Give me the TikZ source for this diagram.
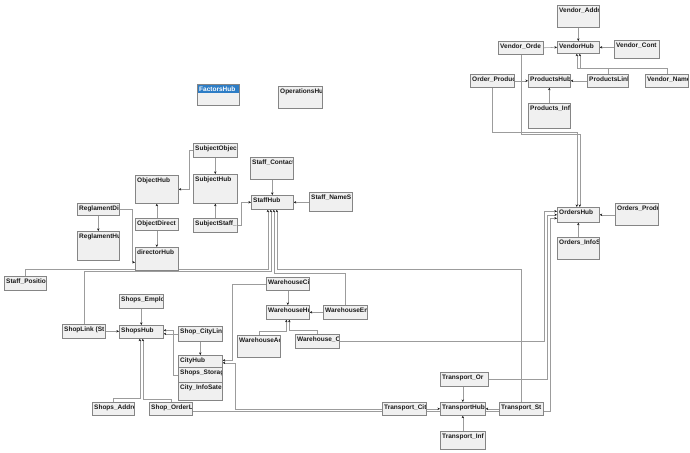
\documentclass[tikz,border=0pt]{standalone}
\usepackage{fontspec}
\setmainfont{Liberation Sans}
\usetikzlibrary{arrows.meta, calc}
\definecolor{boxfill}{HTML}{F0F0F0}
\definecolor{boxedge}{HTML}{858585}
\definecolor{relgray}{HTML}{9C9C9C}
\definecolor{selblue}{HTML}{2D7DC6}
\definecolor{inkdark}{HTML}{1A1A1A}
\pgfdeclarelayer{bg}
\pgfsetlayers{bg,main}

\begin{document}
\begin{tikzpicture}[x=1pt, y=-1pt,
  tbl/.style={draw=boxedge, fill=boxfill, line width=0.6pt, inner sep=0pt, anchor=north west},
  tbltext/.style={draw=none, fill=none, minimum width=0pt, minimum height=0pt, anchor=north west,
    inner xsep=1.6pt, inner ysep=2.1pt, text=inkdark, font=\bfseries\fontsize{6.5}{7}\selectfont},
  rel/.style={draw=relgray, line width=0.55pt, -{Stealth[length=2.6pt,width=2.4pt,color=inkdark]}}]
  \useasboundingbox (0,0) rectangle (690,452);

  % Tables (titles clipped to the box)
  \foreach \nm/\xa/\ya/\w/\h/\txt in {
    vaddr/557/5/42/22/Vendor\_Addr, vhub/557/41/42/12/VendorHub,
    vorde/498/41/45/13/Vendor\_Orde, vcont/614/40/45/18/Vendor\_Cont,
    oprod/470/74/44/13/Order\_Produc, phub/528/74/42/13/ProductsHub,
    plink/587/74/41/13/ProductsLink, vname/645/74/43/13/Vendor\_Name,
    pinfo/528/103/42/25/Products\_Info, ophub/278/86/44/22/OperationsHu,
    subobj/193/143/44/14/SubjectObjec, ohub/135/175/43/28/ObjectHub,
    shub/193/174/44/29/SubjectHub, ssub/193/218/44/14/SubjectStaff\_,
    odir/135/218/43/12/ObjectDirect, dhub/135/247/43/23/directorHub,
    rdi/77/203/42/12/ReglamentDi, rhu/77/231/42/29/ReglamentHu,
    spos/4/276/42/14/Staff\_Position, scont/250/157/43/22/Staff\_Contact,
    sthub/251/195/42/14/StaffHub, sname/309/192/43/19/Staff\_NameS,
    whci/266/277/43/13/WarehouseCi, whhub/266/305/43/14/WarehouseHu,
    when/323/305/44/14/WarehouseEn, whac/237/335/43/22/WarehouseAc,
    who/295/334/44/14/Warehouse\_O, ordhub/557/207/42/15/OrdersHub,
    ordprod/615/203/43/22/Orders\_Produ, ordinfo/557/237/42/22/Orders\_InfoS,
    shemp/119/294/44/14/Shops\_Emplo, shlink/62/324/43/14/ShopLink (St,
    shhub/119/325/44/13/ShopsHub, shcity/178/326/44/15/Shop\_CityLin,
    cityhub/178/355/44/12/CityHub, shstor/178/367/44/15/Shops\_Storag,
    cityinfo/178/382/44/18/City\_InfoSate, shaddr/92/402/42/13/Shops\_Addre,
    shord/149/402/43/13/Shop\_OrderLi, tror/440/372/48/14/Transport\_Or,
    trcit/382/402/44/13/Transport\_Cit, trhub/440/402/45/13/TransportHub,
    trst/499/402/44/13/Transport\_St, trinf/440/431/45/18/Transport\_Inf} {
    \node[tbl, minimum width=\w pt, minimum height=\h pt,
      path picture={\node[tbltext] at (path picture bounding box.north west) {\txt};}] (\nm) at (\xa,\ya) {};
  }
  % Selected table
  \node[tbl, minimum width=42pt, minimum height=21pt,
    path picture={\fill[selblue] (path picture bounding box.north west) rectangle ([yshift=-9pt]path picture bounding box.north east);
      \node[tbltext, text=white] at (path picture bounding box.north west) {FactorsHub};}] (fhub) at (197,84) {};

  \begin{pgfonlayer}{bg}
    \fill[white] (0,0) rectangle (690,452);
    % Vendor and products
    \draw[rel] (vaddr.south) -- (vhub.north);
    \draw[rel] (vorde.east) -- (vhub.west);
    \draw[rel] (vcont.west |- vhub.east) -- (vhub.east);
    \draw[rel] (plink.north) -- ++(0,-6) -| ([xshift=-1.5pt]vhub.south);
    \draw[rel] (vname.north) -- ++(0,-6) -| ([xshift=1.5pt]vhub.south);
    \draw[rel] (oprod.east) -- (phub.west);
    \draw[rel] (plink.west) -- (phub.east);
    \draw[rel] (pinfo.north) -- (phub.south);
    \draw[rel] (oprod.south) -- ++(0,45) -| ([xshift=-1.5pt]ordhub.north);
    \draw[rel] (vorde.south) -- ++(0,80) -| ([xshift=1.5pt]ordhub.north);
    % Orders
    \draw[rel] (ordprod.west |- ordhub.east) -- (ordhub.east);
    \draw[rel] (ordinfo.north) -- (ordhub.south);
    \draw[rel] (who.east) -- ++(205,0) |- ([yshift=3.5pt]ordhub.west);
    \draw[rel] (tror.east) -- ++(59,0) |- (ordhub.west);
    \draw[rel] ([yshift=-2pt]shord.east) -- ++(358,0) |- ([yshift=-3.5pt]ordhub.west);
    % Staff
    \draw[rel] (sthub.north |- scont.south) -- (sthub.north);
    \draw[rel] (sname.west |- sthub.east) -- (sthub.east);
    \draw[rel] (ssub.east) -- ++(4,0) |- (sthub.west);
    \draw[rel] (spos.north) -- ++(0,-7) -| ([xshift=-4.5pt]sthub.south);
    \draw[rel] (shlink.north) -- ++(0,-53) -| ([xshift=-1.5pt]sthub.south);
    \draw[rel] (when.north) -- ++(0,-32) -| ([xshift=1.5pt]sthub.south);
    \draw[rel] (trst.north) -- ++(0,-133) -| ([xshift=4.5pt]sthub.south);
    % Subject, object, director
    \draw[rel] (subobj.south) -- (shub.north);
    \draw[rel] (ssub.north) -- (shub.south);
    \draw[rel] (subobj.west) -- ++(-4,0) |- (ohub.east);
    \draw[rel] (odir.north) -- (ohub.south);
    \draw[rel] (odir.south) -- (dhub.north);
    \draw[rel] (rdi.east) -- ++(13,0) |- ([yshift=-3.5pt]dhub.west);
    \draw[rel] (rdi.south) -- (rhu.north);
    % Warehouse
    \draw[rel] (whci.south) -- (whhub.north);
    \draw[rel] (when.west) -- (whhub.east);
    \draw[rel] (whac.north) -- ++(0,-4) -| ([xshift=-1.5pt]whhub.south);
    \draw[rel] (who.north) -- ++(0,-4) -| ([xshift=1.5pt]whhub.south);
    \draw[rel] (whci.west) -- ++(-34,0) |- ([yshift=1pt]cityhub.east);
    \draw[rel] (trcit.west) -- ++(-147,0) |- ([yshift=-1.5pt]cityhub.east);
    % Shops
    \draw[rel] (shemp.south) -- (shhub.north);
    \draw[rel] (shlink.east) -- (shhub.west |- shlink.east);
    \draw[rel] (shcity.west) -- (shhub.east |- shcity.west);
    \draw[rel] (shstor.west) -- ++(-5,0) |- ([yshift=1.5pt]shhub.east);
    \draw[rel] (shcity.south) -- (cityhub.north);
    \draw[rel] (shaddr.north) -- ++(0,-4) -| ([xshift=-1.5pt]shhub.south);
    \draw[rel] (shord.north) -- ++(0,-3) -| ([xshift=1.5pt]shhub.south);
    % Transport
    \draw[rel] (trhub.north |- tror.south) -- (trhub.north);
    \draw[rel] (trcit.east) -- (trhub.west);
    \draw[rel] (trst.west) -- (trhub.east);
    \draw[rel] (trinf.north) -- (trhub.south);
  \end{pgfonlayer}
\end{tikzpicture}
\end{document}
